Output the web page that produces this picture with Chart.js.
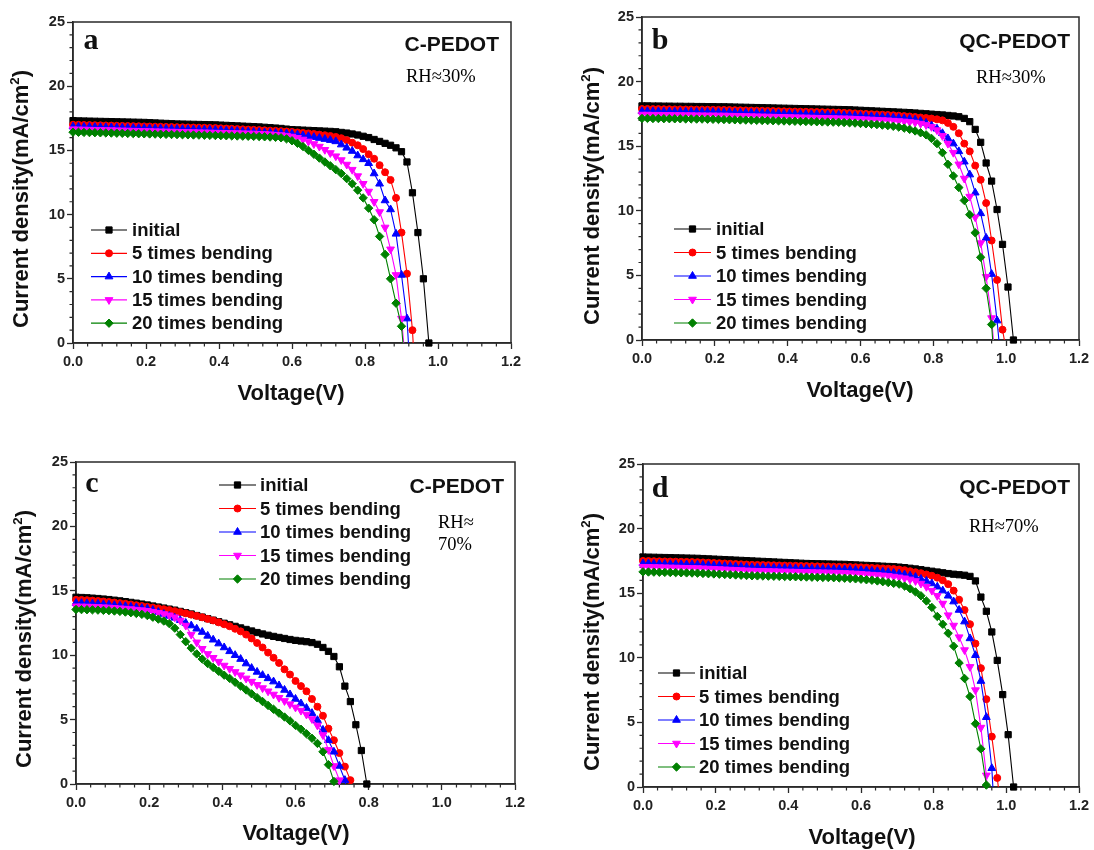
<!DOCTYPE html>
<html><head><meta charset="utf-8">
<script src="https://cdn.jsdelivr.net/npm/chart.js@4.4.1/dist/chart.umd.min.js"></script>
<style>
html,body{margin:0;padding:0;background:#fff;}
#root{position:relative;width:1094px;height:850px;overflow:hidden;background:#fff;font-family:"Liberation Sans",Arial,sans-serif;}
canvas{position:absolute;}
.t{position:absolute;white-space:nowrap;color:#111;}
.c{transform:translate(-50%,-50%);}
.r{transform:translate(-100%,-50%);}
.l{transform:translateY(-50%);}
.ttl{font-weight:bold;font-size:22px;line-height:26px;}
.ytl{transform:translate(-50%,-50%) rotate(-90deg);}
.ttl sup{font-size:0.6em;line-height:0;vertical-align:0.7em;}
.pl{font-family:"Liberation Serif","Times New Roman",serif;font-weight:bold;font-size:30px;line-height:30px;}
.mat{font-weight:bold;font-size:21px;line-height:24px;}
.rh{font-family:"Liberation Serif","Times New Roman",serif;font-size:18.5px;line-height:22px;color:#000;}
.lg{font-weight:bold;font-size:18.5px;line-height:22px;}
</style></head>
<body><div id="root">
<canvas id="cva" width="547" height="425" style="left:0;top:0"></canvas>
<canvas id="cvb" width="547" height="425" style="left:547px;top:0"></canvas>
<canvas id="cvc" width="547" height="425" style="left:0;top:425px"></canvas>
<canvas id="cvd" width="547" height="425" style="left:547px;top:425px"></canvas>

<div class="t pl c" style="left:91px;top:38.5px">a</div>
<div class="t mat r" style="left:499px;top:44px">C-PEDOT</div>
<div class="t rh l" style="left:406px;top:76px">RH≈30%</div>
<div class="t ttl ytl" style="left:21px;top:199px">Current density(mA/cm<sup>2</sup>)</div>
<div class="t ttl c" style="left:291px;top:393px">Voltage(V)</div>

<div class="t pl c" style="left:660px;top:39px">b</div>
<div class="t mat r" style="left:1070px;top:41px">QC-PEDOT</div>
<div class="t rh l" style="left:976px;top:77px">RH≈30%</div>
<div class="t ttl ytl" style="left:592px;top:196px">Current density(mA/cm<sup>2</sup>)</div>
<div class="t ttl c" style="left:860px;top:390px">Voltage(V)</div>

<div class="t pl c" style="left:92px;top:482px">c</div>
<div class="t mat r" style="left:504px;top:486px">C-PEDOT</div>
<div class="t rh l" style="left:438px;top:522px">RH≈</div>
<div class="t rh l" style="left:438px;top:544px">70%</div>
<div class="t ttl ytl" style="left:24px;top:639px">Current density(mA/cm<sup>2</sup>)</div>
<div class="t ttl c" style="left:296px;top:833px">Voltage(V)</div>

<div class="t pl c" style="left:660px;top:487px">d</div>
<div class="t mat r" style="left:1070px;top:487px">QC-PEDOT</div>
<div class="t rh l" style="left:969px;top:526px">RH≈70%</div>
<div class="t ttl ytl" style="left:592px;top:642px">Current density(mA/cm<sup>2</sup>)</div>
<div class="t ttl c" style="left:862px;top:837px">Voltage(V)</div>
</div>
<script>
// ---------- data ----------
const V = [0,0.015,0.03,0.045,0.06,0.075,0.09,0.105,0.12,0.135,0.15,0.165,0.18,0.195,0.21,0.225,0.24,0.255,0.27,0.285,0.3,0.315,0.33,0.345,0.36,0.375,0.39,0.405,0.42,0.435,0.45,0.465,0.48,0.495,0.51,0.525,0.54,0.555,0.57,0.585,0.6,0.615,0.63,0.645,0.66,0.675,0.69,0.705,0.72,0.735,0.75,0.765,0.78,0.795,0.81,0.825,0.84,0.855,0.87,0.885,0.9,0.915,0.93,0.945,0.96,0.975,0.99,1.005,1.02,1.035];

const SERIES_NAMES = ['initial','5 times bending','10 times bending','15 times bending','20 times bending'];
const X_TICKS = [0,0.2,0.4,0.6,0.8,1.0,1.2];
const Y_TICKS = [0,5,10,15,20,25];
const X_MINOR = [0.04,0.08,0.12,0.16,0.24,0.28,0.32,0.36,0.44,0.48,0.52,0.56,0.64,0.68,0.72,0.76,0.84,0.88,0.92,0.96,1.04,1.08,1.12,1.16];
const Y_MINOR = [1,2,3,4,6,7,8,9,11,12,13,14,16,17,18,19,21,22,23,24];

// panel a: C-PEDOT, RH~30%
const A_INIT = [17.32,17.3,17.29,17.28,17.27,17.26,17.25,17.24,17.23,17.22,17.21,17.2,17.19,17.18,17.16,17.14,17.12,17.1,17.08,17.06,17.05,17.04,17.03,17.02,17.01,17.0,16.99,16.97,16.95,16.93,16.91,16.89,16.87,16.85,16.83,16.8,16.77,16.74,16.71,16.66,16.62,16.6,16.58,16.56,16.54,16.52,16.5,16.48,16.45,16.4,16.35,16.28,16.2,16.1,16.0,15.85,15.7,15.55,15.4,15.2,14.9,14.1,11.7,8.6,5.0,0.0];
const A_5X = [17.0,16.99,16.98,16.97,16.96,16.95,16.94,16.93,16.92,16.91,16.9,16.89,16.88,16.87,16.86,16.85,16.84,16.83,16.82,16.81,16.8,16.79,16.78,16.77,16.76,16.75,16.74,16.72,16.7,16.68,16.66,16.64,16.62,16.6,16.58,16.56,16.54,16.52,16.5,16.47,16.44,16.4,16.36,16.32,16.28,16.23,16.18,16.12,16.05,15.95,15.8,15.6,15.4,15.1,14.7,14.35,13.85,13.3,12.7,11.3,8.6,5.4,1.0];
const A_10X = [16.85,16.84,16.83,16.82,16.81,16.8,16.79,16.78,16.77,16.76,16.75,16.74,16.73,16.72,16.71,16.7,16.69,16.68,16.67,16.66,16.65,16.64,16.63,16.62,16.61,16.6,16.58,16.56,16.54,16.52,16.5,16.48,16.46,16.44,16.42,16.4,16.38,16.36,16.34,16.31,16.28,16.22,16.16,16.1,16.03,15.96,15.88,15.8,15.7,15.45,15.2,14.95,14.6,14.3,14.0,13.2,12.4,11.1,10.4,8.5,5.3,1.9];
const A_15X = [16.65,16.64,16.63,16.62,16.61,16.6,16.59,16.58,16.57,16.56,16.55,16.54,16.53,16.52,16.51,16.5,16.49,16.48,16.47,16.46,16.45,16.44,16.43,16.42,16.41,16.4,16.39,16.38,16.37,16.36,16.35,16.34,16.33,16.32,16.3,16.28,16.26,16.23,16.2,16.15,16.08,15.98,15.85,15.7,15.5,15.3,15.05,14.8,14.55,14.25,13.9,13.5,13.0,12.4,11.8,11.0,10.2,9.0,7.3,5.3,1.9];
const A_20X = [16.42,16.41,16.4,16.39,16.38,16.37,16.36,16.35,16.34,16.33,16.32,16.31,16.3,16.29,16.28,16.27,16.26,16.25,16.24,16.23,16.22,16.21,16.2,16.19,16.18,16.17,16.16,16.15,16.14,16.13,16.12,16.11,16.1,16.09,16.08,16.06,16.04,16.02,15.98,15.9,15.75,15.55,15.3,15.0,14.7,14.4,14.1,13.8,13.5,13.2,12.8,12.4,11.9,11.3,10.5,9.6,8.3,6.9,5.0,3.1,1.3];
const A_VOC = [null,0.932,0.919,0.906,0.904];

// panel b: QC-PEDOT, RH~30%
const B_INIT = [18.12,18.12,18.11,18.11,18.1,18.1,18.09,18.09,18.08,18.08,18.07,18.07,18.06,18.06,18.05,18.05,18.04,18.03,18.02,18.01,18.0,17.99,17.98,17.97,17.96,17.95,17.94,17.93,17.92,17.91,17.9,17.89,17.88,17.87,17.86,17.85,17.84,17.83,17.82,17.8,17.78,17.76,17.74,17.72,17.7,17.68,17.66,17.64,17.62,17.6,17.57,17.54,17.51,17.48,17.45,17.42,17.38,17.34,17.28,17.15,16.9,16.3,15.3,13.7,12.3,10.1,7.4,4.1,0.0];
const B_5X = [17.88,17.88,17.87,17.87,17.86,17.86,17.85,17.85,17.84,17.84,17.83,17.83,17.82,17.82,17.81,17.81,17.8,17.79,17.78,17.77,17.76,17.75,17.74,17.73,17.72,17.71,17.7,17.69,17.68,17.67,17.66,17.65,17.64,17.63,17.62,17.61,17.6,17.58,17.56,17.54,17.52,17.5,17.48,17.46,17.44,17.42,17.39,17.36,17.33,17.3,17.26,17.22,17.18,17.14,17.08,17.0,16.8,16.5,16.0,15.2,14.6,13.5,12.4,10.6,7.7,4.65,0.8];
const B_10X = [17.7,17.7,17.69,17.69,17.68,17.68,17.67,17.67,17.66,17.66,17.65,17.65,17.64,17.64,17.63,17.63,17.62,17.61,17.6,17.59,17.58,17.57,17.56,17.55,17.54,17.53,17.52,17.51,17.5,17.49,17.48,17.47,17.46,17.45,17.44,17.43,17.42,17.4,17.38,17.36,17.34,17.32,17.3,17.28,17.26,17.24,17.21,17.18,17.15,17.11,17.05,16.95,16.8,16.6,16.35,16.0,15.6,15.2,14.6,13.8,12.8,11.4,9.8,7.9,5.1,1.5];
const B_15X = [17.45,17.45,17.44,17.44,17.43,17.43,17.42,17.42,17.41,17.41,17.4,17.4,17.39,17.39,17.38,17.38,17.37,17.36,17.35,17.34,17.33,17.32,17.31,17.3,17.29,17.28,17.27,17.26,17.25,17.24,17.23,17.22,17.21,17.2,17.19,17.18,17.17,17.16,17.15,17.13,17.11,17.09,17.07,17.05,17.03,17.01,16.98,16.95,16.92,16.88,16.83,16.75,16.65,16.5,16.25,15.8,15.2,14.5,13.6,12.5,11.1,9.5,7.5,4.9,1.7];
const B_20X = [17.15,17.15,17.14,17.14,17.13,17.13,17.12,17.12,17.11,17.11,17.1,17.1,17.09,17.08,17.07,17.06,17.05,17.04,17.03,17.02,17.01,17.0,16.99,16.98,16.97,16.96,16.95,16.94,16.93,16.92,16.91,16.9,16.89,16.88,16.87,16.86,16.85,16.83,16.81,16.79,16.76,16.73,16.7,16.67,16.63,16.59,16.54,16.48,16.4,16.3,16.18,16.04,15.88,15.6,15.2,14.5,13.6,12.7,11.8,10.8,9.7,8.3,6.4,4.0,1.2];
const B_VOC = [null,0.995,0.98,0.965,0.963];

// panel c: C-PEDOT, RH~70%
const C_INIT = [14.5,14.48,14.46,14.43,14.4,14.36,14.32,14.27,14.22,14.16,14.1,14.04,13.97,13.9,13.82,13.74,13.66,13.58,13.5,13.4,13.3,13.2,13.08,12.96,12.84,12.72,12.6,12.48,12.36,12.24,12.12,12.0,11.88,11.76,11.65,11.55,11.46,11.38,11.3,11.22,11.15,11.1,11.05,10.98,10.85,10.6,10.3,9.9,9.1,7.6,6.4,4.6,2.6,0.0];
const C_5X = [14.3,14.29,14.27,14.24,14.21,14.17,14.13,14.09,14.04,13.99,13.94,13.88,13.82,13.76,13.7,13.64,13.57,13.5,13.42,13.34,13.25,13.15,13.05,12.94,12.82,12.7,12.55,12.4,12.25,12.05,11.85,11.6,11.3,10.95,10.6,10.2,9.8,9.4,8.9,8.5,8.0,7.6,7.2,6.6,6.0,5.3,4.3,3.4,2.4,1.35,0.3];
const C_10X = [14.05,14.04,14.02,14.0,13.98,13.95,13.92,13.88,13.84,13.8,13.75,13.7,13.65,13.6,13.5,13.35,13.2,13.05,12.9,12.72,12.5,12.3,12.05,11.8,11.5,11.2,10.9,10.6,10.3,10.0,9.7,9.35,9.0,8.7,8.45,8.2,7.95,7.65,7.3,6.95,6.6,6.25,5.9,5.5,4.95,4.2,3.4,2.5,1.4,0.3];
const C_15X = [13.8,13.79,13.78,13.77,13.75,13.73,13.71,13.68,13.65,13.62,13.58,13.54,13.5,13.45,13.38,13.3,13.2,13.1,12.95,12.7,12.3,11.6,11.0,10.5,10.1,9.8,9.5,9.2,8.95,8.7,8.45,8.2,7.95,7.7,7.45,7.2,6.95,6.7,6.45,6.2,5.95,5.7,5.4,5.05,4.55,3.8,2.65,1.4,0.3];
const C_20X = [13.55,13.54,13.53,13.52,13.5,13.48,13.46,13.43,13.4,13.35,13.3,13.24,13.17,13.08,12.95,12.8,12.65,12.45,12.1,11.6,11.05,10.55,10.1,9.7,9.35,9.05,8.75,8.45,8.2,7.9,7.6,7.3,7.0,6.7,6.4,6.1,5.8,5.5,5.2,4.9,4.55,4.25,3.9,3.55,3.15,2.5,1.5,0.2];
const C_VOC = [null,0.753,0.737,0.722,0.708];

// panel d: QC-PEDOT, RH~70%
const D_INIT = [17.8,17.79,17.78,17.77,17.76,17.75,17.74,17.73,17.72,17.71,17.7,17.68,17.66,17.64,17.62,17.6,17.58,17.56,17.54,17.52,17.5,17.48,17.46,17.44,17.42,17.4,17.38,17.36,17.34,17.32,17.3,17.29,17.28,17.27,17.26,17.25,17.24,17.23,17.21,17.19,17.17,17.15,17.13,17.11,17.09,17.07,17.05,17.02,16.98,16.93,16.88,16.82,16.76,16.7,16.64,16.58,16.52,16.47,16.43,16.39,16.3,15.95,14.7,13.6,12.0,9.8,7.15,4.05,0.0];
const D_5X = [17.5,17.49,17.48,17.47,17.46,17.45,17.44,17.43,17.42,17.41,17.4,17.38,17.36,17.34,17.32,17.3,17.28,17.26,17.24,17.22,17.2,17.19,17.18,17.17,17.16,17.15,17.14,17.13,17.12,17.11,17.1,17.09,17.08,17.07,17.06,17.05,17.04,17.03,17.02,17.01,17.0,16.98,16.96,16.94,16.92,16.9,16.87,16.83,16.78,16.7,16.62,16.55,16.45,16.35,16.2,16.0,15.7,15.2,14.5,13.7,12.6,11.1,9.2,6.8,3.9,0.7];
const D_10X = [17.3,17.29,17.28,17.27,17.26,17.25,17.24,17.23,17.22,17.21,17.2,17.18,17.16,17.14,17.12,17.1,17.08,17.06,17.04,17.02,17.0,16.99,16.98,16.97,16.96,16.95,16.94,16.93,16.92,16.91,16.9,16.89,16.88,16.87,16.86,16.85,16.84,16.83,16.81,16.79,16.77,16.75,16.72,16.69,16.66,16.62,16.57,16.51,16.44,16.35,16.25,16.1,15.95,15.75,15.5,15.2,14.8,14.35,13.7,12.8,11.5,10.2,8.2,5.4,1.45];
const D_15X = [17.05,17.04,17.03,17.02,17.01,17.0,16.99,16.98,16.97,16.96,16.95,16.93,16.91,16.89,16.87,16.85,16.83,16.81,16.79,16.77,16.75,16.74,16.73,16.72,16.71,16.7,16.69,16.68,16.67,16.66,16.65,16.64,16.63,16.62,16.61,16.6,16.59,16.57,16.55,16.53,16.5,16.47,16.44,16.41,16.38,16.34,16.29,16.23,16.16,16.07,15.95,15.75,15.5,15.2,14.8,14.2,13.3,12.5,11.6,10.6,9.3,7.5,4.6,0.9];
const D_20X = [16.65,16.64,16.63,16.62,16.61,16.6,16.59,16.58,16.57,16.56,16.55,16.53,16.51,16.49,16.47,16.45,16.43,16.41,16.39,16.37,16.35,16.34,16.33,16.32,16.31,16.3,16.29,16.28,16.27,16.26,16.25,16.24,16.23,16.22,16.21,16.2,16.18,16.16,16.14,16.11,16.08,16.04,16.0,15.95,15.89,15.82,15.76,15.7,15.55,15.35,15.1,14.8,14.4,13.9,13.2,12.6,11.9,10.9,9.6,8.4,7.0,4.9,2.95,0.15];
const D_VOC = [null,0.978,0.963,0.947,null];

// ---------- styles / layout ----------
const STYLE = [
  {color:'#000000', ps:'rect', rot:0, r:4.4},
  {color:'#ff0000', ps:'circle', rot:0, r:3.5},
  {color:'#0000ff', ps:'triangle', rot:0, r:4.5},
  {color:'#ff00ff', ps:'triangle', rot:180, r:4.5},
  {color:'#008000', ps:'rectRot', rot:0, r:4.2}
];
const AXIS = '#2a2a2a';
const TICK_FONT = {family:'"Liberation Sans", Arial, sans-serif', size:14.5, weight:'bold'};

const PANELS = [
  {cv:'cva', cx:0, cy:0, L:73, T:22, R:511, B:343, series:[A_INIT,A_5X,A_10X,A_15X,A_20X], voc:A_VOC, lg:{x1:91, x2:127, tx:132, y0:230, dy:23.3}},
  {cv:'cvb', cx:547, cy:0, L:642, T:17, R:1079, B:340, series:[B_INIT,B_5X,B_10X,B_15X,B_20X], voc:B_VOC, lg:{x1:674, x2:711, tx:716, y0:229, dy:23.5}},
  {cv:'cvc', cx:0, cy:425, L:76, T:462, R:515, B:784, series:[C_INIT,C_5X,C_10X,C_15X,C_20X], voc:C_VOC, lg:{x1:219, x2:256, tx:260, y0:485, dy:23.5}},
  {cv:'cvd', cx:547, cy:425, L:643, T:464, R:1079, B:787, series:[D_INIT,D_5X,D_10X,D_15X,D_20X], voc:D_VOC, lg:{x1:658, x2:695, tx:699, y0:673, dy:23.5}}
];

function drawMarker(ctx, st, x, y){
  ctx.fillStyle = st.color; ctx.strokeStyle = st.color; ctx.lineWidth = 1;
  if (Chart.helpers && Chart.helpers.drawPoint){
    Chart.helpers.drawPoint(ctx, {pointStyle:st.ps, rotation:st.rot, radius:st.r, borderWidth:1}, x, y);
    return;
  }
  ctx.beginPath(); ctx.arc(x, y, st.r, 0, Math.PI*2); ctx.fill();
}

function panelPlugin(p){
  return {
    id:'panelDeco',
    beforeDatasetsDraw(chart){
      const {ctx, chartArea:a, scales} = chart;
      const x = scales.x, y = scales.y;
      ctx.save();
      ctx.strokeStyle = AXIS; ctx.lineWidth = 1.5;
      ctx.strokeRect(a.left, a.top, a.right - a.left, a.bottom - a.top);
      ctx.lineWidth = 1.2;
      ctx.beginPath();
      Y_MINOR.forEach(v => { const py = y.getPixelForValue(v); ctx.moveTo(a.left, py); ctx.lineTo(a.left - 3.5, py); });
      X_MINOR.forEach(v => { const px = x.getPixelForValue(v); ctx.moveTo(px, a.bottom); ctx.lineTo(px, a.bottom + 3.5); });
      ctx.stroke();
      ctx.restore();
    },
    afterDatasetsDraw(chart){
      const ctx = chart.ctx;
      ctx.save();
      STYLE.forEach((st, k) => {
        const yy = p.lg.y0 + k * p.lg.dy - p.cy;
        ctx.strokeStyle = st.color; ctx.lineWidth = 1.2;
        ctx.beginPath(); ctx.moveTo(p.lg.x1 - p.cx, yy); ctx.lineTo(p.lg.x2 - p.cx, yy); ctx.stroke();
        drawMarker(ctx, st, (p.lg.x1 + p.lg.x2) / 2 - p.cx, yy);
      });
      ctx.restore();
    }
  };
}

const root = document.getElementById('root');
PANELS.forEach(p => {
  SERIES_NAMES.forEach((name, k) => {
    const d = document.createElement('div');
    d.className = 't lg l';
    d.style.left = p.lg.tx + 'px';
    d.style.top = (p.lg.y0 + k * p.lg.dy) + 'px';
    d.textContent = name;
    root.appendChild(d);
  });

  const datasets = p.series.map((J, k) => {
    const st = STYLE[k];
    const pts = J.map((j, i) => ({x: V[i], y: j}));
    if (p.voc[k] !== null) pts.push({x: p.voc[k], y: 0});
    const n = J.length;
    return {
      label: SERIES_NAMES[k],
      data: pts,
      borderColor: st.color,
      backgroundColor: st.color,
      borderWidth: 1.1,
      pointStyle: st.ps,
      pointRotation: st.rot,
      pointRadius: (c) => c.dataIndex < n ? st.r : 0,
      pointBorderWidth: 1,
      pointBackgroundColor: st.color,
      pointBorderColor: st.color,
      tension: 0,
      clip: false,
      order: 4 - k
    };
  });

  new Chart(document.getElementById(p.cv), {
    type: 'line',
    data: {datasets},
    options: {
      responsive: false,
      animation: false,
      events: [],
      layout: {autoPadding: false, padding: {left: 0, top: p.T - p.cy, right: p.cx + 547 - p.R, bottom: 0}},
      plugins: {legend: {display: false}, tooltip: {enabled: false}},
      scales: {
        x: {
          type: 'linear', min: 0, max: 1.2,
          afterFit: s => { s.height = p.cy + 425 - p.B; },
          afterBuildTicks: s => { s.ticks = X_TICKS.map(v => ({value: v})); },
          ticks: {callback: v => Number(v).toFixed(1), font: TICK_FONT, color: '#222', padding: 4, maxRotation: 0, autoSkip: false},
          grid: {drawOnChartArea: false, drawTicks: true, tickLength: 6, tickColor: AXIS, tickWidth: 1.3},
          border: {display: true, color: AXIS, width: 1.5}
        },
        y: {
          type: 'linear', min: 0, max: 25,
          afterFit: s => { s.width = p.L - p.cx; },
          afterBuildTicks: s => { s.ticks = Y_TICKS.map(v => ({value: v})); },
          ticks: {callback: v => String(v), font: TICK_FONT, color: '#222', padding: 2, autoSkip: false},
          grid: {drawOnChartArea: false, drawTicks: true, tickLength: 6, tickColor: AXIS, tickWidth: 1.3},
          border: {display: true, color: AXIS, width: 1.5}
        }
      }
    },
    plugins: [panelPlugin(p)]
  });
});
</script>
</body></html>
